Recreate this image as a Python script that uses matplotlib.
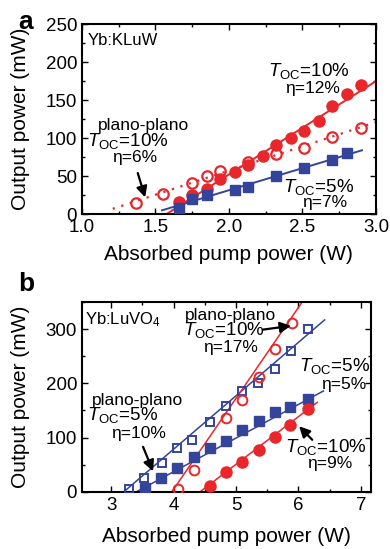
import matplotlib
matplotlib.use("Agg")
import matplotlib.pyplot as plt
from matplotlib.ticker import MultipleLocator

plt.rcParams['font.family'] = ['Liberation Sans', 'DejaVu Sans']
plt.rcParams['mathtext.fontset'] = 'custom'
plt.rcParams['mathtext.rm'] = 'Liberation Sans'
plt.rcParams['mathtext.it'] = 'Liberation Sans:italic'

RED = '#e8262b'
BLUE = '#34449a'

# ---- panel a : Yb:KLuW ----
a_t10_x = [1.66, 1.75, 1.85, 1.94, 2.04, 2.13, 2.23, 2.32, 2.42, 2.51, 2.61, 2.70, 2.80, 2.90]
a_t10_y = [16, 25, 33, 46, 55, 64, 77, 91, 100, 110, 122, 142, 158, 170]
a_t10_fit_x = [1.575, 3.0]
a_t10_fit_y = [0, 175]

a_pp_x = [1.37, 1.55, 1.75, 1.85, 1.94, 2.13, 2.32, 2.51, 2.70, 2.90]
a_pp_y = [15, 27, 41, 50, 57, 68, 79, 87, 102, 113]
a_pp_fit_x = [1.21, 3.0]
a_pp_fit_y = [7, 121]

a_t5_x = [1.66, 1.75, 1.85, 2.04, 2.13, 2.32, 2.51, 2.70, 2.80]
a_t5_y = [8, 20, 25, 32, 36, 50, 61, 71, 81]
a_t5_fit_x = [1.545, 2.905]
a_t5_fit_y = [5, 84]

# ---- panel b : Yb:LuVO4 ----
b_pp5_x = [3.29, 3.53, 3.81, 4.06, 4.30, 4.58, 4.84, 5.10, 5.35, 5.62, 5.88, 6.15]
b_pp5_y = [5, 26, 54, 80, 96, 129, 158, 185, 200, 227, 260, 301]
b_pp5_fit_x = [3.2, 6.42]
b_pp5_fit_y = [0, 317]

b_t5_x = [3.54, 3.80, 4.06, 4.32, 4.58, 4.84, 5.10, 5.36, 5.62, 5.87, 6.15]
b_t5_y = [8, 26, 44, 64, 81, 93, 114, 131, 147, 156, 171]
b_t5_fit_x = [3.40, 6.40]
b_t5_fit_y = [0, 186]

b_pp10_x = [4.07, 4.32, 4.84, 5.10, 5.36, 5.62, 5.89]
b_pp10_y = [5, 40, 136, 170, 212, 264, 312]
b_pp10_fit_x = [3.97, 6.06]
b_pp10_fit_y = [0, 350]

b_t10_x = [4.58, 4.84, 5.10, 5.36, 5.62, 5.87, 6.15]
b_t10_y = [11, 36, 55, 78, 101, 124, 152]
b_t10_fit_x = [4.42, 6.30]
b_t10_fit_y = [0, 165]

TOC = r'$\mathit{T}_{\mathrm{OC}}$'
FS = 12.5      # plain annotation text
FS_T = 13.5    # T_OC lines (bigger so the subscript reads like the original)


def style_axes(ax):
    for s in ax.spines.values():
        s.set_linewidth(1.5)
    ax.tick_params(which='both', direction='in', top=True, right=True,
                   labelsize=13.5, width=1.0)
    ax.tick_params(which='major', length=4)
    ax.tick_params(which='minor', length=2.5)


def arrow(ax, tail, head):
    ax.annotate('', xy=head, xytext=tail,
                arrowprops=dict(arrowstyle='-|>', color='k', lw=1.6,
                                mutation_scale=16, shrinkA=0, shrinkB=0))


fig = plt.figure(figsize=(3.9, 5.49), dpi=100)

# ---------------- panel a ----------------
ax = fig.add_axes([0.210, 0.610, 0.754, 0.346])
ax.plot(a_t10_fit_x, a_t10_fit_y, color=RED, lw=1.4, zorder=2)
ax.plot(a_pp_fit_x, a_pp_fit_y, color=RED, lw=1.6, ls=(0, (1, 3)), zorder=2)
ax.plot(a_t5_fit_x, a_t5_fit_y, color=BLUE, lw=1.4, zorder=2)
ax.plot(a_pp_x, a_pp_y, 'o', ms=7.5, mfc='none', mec=RED, mew=1.6, zorder=3)
ax.plot(a_t10_x, a_t10_y, 'o', ms=8, color=RED, zorder=3)
ax.plot(a_t5_x, a_t5_y, 's', ms=7, color=BLUE, zorder=4)
ax.set_xlim(1.0, 3.0)
ax.set_ylim(0, 250)
ax.xaxis.set_major_locator(MultipleLocator(0.5))
ax.xaxis.set_minor_locator(MultipleLocator(0.25))
ax.yaxis.set_major_locator(MultipleLocator(50))
ax.yaxis.set_minor_locator(MultipleLocator(25))
ax.xaxis.set_major_formatter(plt.FuncFormatter(lambda v, p: f'{v:.1f}'))
style_axes(ax)
ax.set_xlabel('Absorbed pump power (W)', fontsize=15)
ax.set_ylabel('Output power (mW)', fontsize=15)
ax.yaxis.set_label_coords(-0.175, 0.5)
ax.xaxis.set_label_coords(0.5, -0.16)

ax.text(0.02, 0.955, 'Yb:KLuW', transform=ax.transAxes, fontsize=12,
        ha='left', va='top')
ax.text(2.54, 182, TOC + '=10%', fontsize=FS_T, ha='center', va='baseline')
ax.text(2.57, 160, 'η=12%', fontsize=FS, ha='center', va='baseline')
ax.text(1.417, 111, 'plano-plano', fontsize=FS, ha='center', va='baseline')
ax.text(1.31, 89, TOC + '=10%', fontsize=FS_T, ha='center', va='baseline')
ax.text(1.36, 69, 'η=6%', fontsize=FS, ha='center', va='baseline')
arrow(ax, (1.38, 54), (1.43, 22))
ax.text(2.61, 29, TOC + '=5%', fontsize=FS_T, ha='center', va='baseline')
ax.text(2.65, 10, 'η=7%', fontsize=FS, ha='center', va='baseline')
fig.text(0.048, 0.982, 'a', fontsize=19, fontweight='bold', ha='left', va='top')

# ---------------- panel b ----------------
ax = fig.add_axes([0.210, 0.104, 0.741, 0.346])
ax.plot(b_pp5_fit_x, b_pp5_fit_y, color=BLUE, lw=1.1, zorder=2)
ax.plot(b_t5_fit_x, b_t5_fit_y, color=BLUE, lw=1.1, zorder=2)
ax.plot(b_pp10_fit_x, b_pp10_fit_y, color=RED, lw=1.1, zorder=2)
ax.plot(b_t10_fit_x, b_t10_fit_y, color=RED, lw=1.1, zorder=2)
ax.plot(b_pp5_x, b_pp5_y, 's', ms=6.2, mfc='none', mec=BLUE, mew=1.4, zorder=3)
ax.plot(b_t5_x, b_t5_y, 's', ms=6.8, color=BLUE, zorder=3)
ax.plot(b_pp10_x, b_pp10_y, 'o', ms=7, mfc='none', mec=RED, mew=1.4, zorder=3)
ax.plot(b_t10_x, b_t10_y, 'o', ms=8, color=RED, zorder=3)
ax.set_xlim(2.53, 7.16)
ax.set_ylim(0, 350)
ax.xaxis.set_major_locator(MultipleLocator(1))
ax.xaxis.set_minor_locator(MultipleLocator(0.5))
ax.yaxis.set_major_locator(MultipleLocator(100))
ax.yaxis.set_minor_locator(MultipleLocator(50))
style_axes(ax)
ax.set_xlabel('Absorbed pump power (W)', fontsize=15)
ax.set_ylabel('Output power (mW)', fontsize=15)
ax.yaxis.set_label_coords(-0.178, 0.5)
ax.xaxis.set_label_coords(0.5, -0.185)

ax.text(0.01, 0.958, r'Yb:LuVO$_4$', transform=ax.transAxes, fontsize=12,
        ha='left', va='top')
ax.text(4.91, 317, 'plano-plano', fontsize=FS, ha='center', va='baseline')
ax.text(4.81, 290, TOC + '=10%', fontsize=FS_T, ha='center', va='baseline')
ax.text(4.91, 257, 'η=17%', fontsize=FS, ha='center', va='baseline')
arrow(ax, (5.43, 299), (5.88, 306))
ax.text(6.58, 222, TOC + '=5%', fontsize=FS_T, ha='center', va='baseline')
ax.text(6.73, 190, 'η=5%', fontsize=FS, ha='center', va='baseline')
ax.text(3.42, 160, 'plano-plano', fontsize=FS, ha='center', va='baseline')
ax.text(3.18, 132, TOC + '=5%', fontsize=FS_T, ha='center', va='baseline')
ax.text(3.44, 100, 'η=10%', fontsize=FS, ha='center', va='baseline')
arrow(ax, (3.51, 83), (3.67, 38))
ax.text(6.44, 74, TOC + '=10%', fontsize=FS_T, ha='center', va='baseline')
ax.text(6.50, 44, 'η=9%', fontsize=FS, ha='center', va='baseline')
arrow(ax, (6.22, 96), (6.01, 121))
fig.text(0.048, 0.505, 'b', fontsize=19, fontweight='bold', ha='left', va='top')

fig.savefig('out.png', dpi=100)
